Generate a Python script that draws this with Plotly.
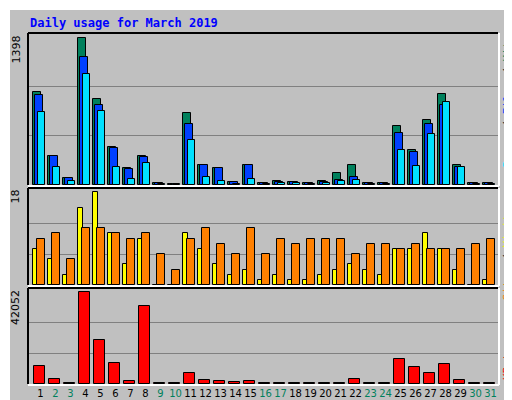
import plotly.graph_objects as go

days = list(range(1, 32))
hits = [886, 278, 70, 1398, 819, 364, 164, 278, 22, 12, 686, 193, 164, 32, 193, 22,
        41, 32, 22, 41, 117, 193, 22, 22, 563, 335, 620, 867, 193, 22, 22]
files = [857, 278, 70, 1218, 762, 354, 155, 269, 22, 8, 582, 193, 164, 32, 193, 15,
         32, 32, 15, 25, 51, 79, 15, 15, 497, 316, 582, 762, 174, 22, 22]
pages = [696, 174, 41, 1056, 705, 174, 60, 212, 9, 5, 430, 79, 41, 12, 60, 10,
         22, 15, 10, 15, 41, 51, 10, 10, 335, 183, 487, 791, 174, 12, 12]
visits = [7, 5, 2, 15, 18, 10, 4, 9, 0, 0, 10, 7, 4, 2, 3, 1,
          2, 1, 1, 2, 3, 4, 3, 2, 7, 7, 10, 7, 3, 0, 1]
sites = [9, 10, 5, 11, 11, 10, 9, 10, 6, 3, 9, 11, 8, 6, 11, 6,
         9, 8, 9, 9, 9, 6, 8, 8, 7, 8, 7, 7, 7, 8, 9]
kbytes = [8410, 2450, 460, 42052, 20340, 9790, 1530, 35930, 460, 460, 5200, 1990, 1530, 1070, 1530, 460,
          460, 460, 460, 460, 460, 2450, 460, 460, 11620, 7950, 5200, 9330, 1990, 460, 460]
weekend = {2, 3, 9, 10, 16, 17, 23, 24, 30, 31}

fig = go.Figure()
line = dict(color="black", width=1)
def bar(x, y, color, w, ax):
    fig.add_trace(go.Bar(x=x, y=y, width=w, marker=dict(color=color, line=line),
                         xaxis="x" + ax, yaxis="y" + ax, showlegend=False, hoverinfo="skip"))

bar([d - 0.15 for d in days], hits, "#00805C", 0.5, "")
bar(days, files, "#0040FF", 0.5, "")
bar([d + 0.15 for d in days], pages, "#00E0FF", 0.5, "")
bar([d - 0.233 for d in days], visits, "#FFFF00", 0.34, "2")
bar([d + 0.133 for d in days], sites, "#FF8000", 0.49, "2")
bar([d + 0.02 for d in days], kbytes, "#FF0000", 0.71, "3")

xr = [0.267, 31.6]
xd = [20 / 512, 490 / 512]
common_x = dict(range=xr, domain=xd, showgrid=False, zeroline=False, fixedrange=True)
def yax(mx, top, dom):
    return dict(range=[0, top], domain=dom, tickvals=[mx / 3, 2 * mx / 3], showticklabels=False,
                gridcolor="#808080", gridwidth=1, zeroline=False, ticks="")

fig.update_layout(
    width=512, height=400, margin=dict(l=0, r=0, t=0, b=0),
    paper_bgcolor="#C0C0C0", plot_bgcolor="#C0C0C0", barmode="overlay", bargap=0,
    xaxis=dict(**common_x, anchor="y", showticklabels=False),
    xaxis2=dict(**common_x, anchor="y2", showticklabels=False),
    xaxis3=dict(**common_x, anchor="y3", tickvals=[d + 0.1 for d in days], tickangle=0,
                ticktext=[f"<span style='color:{'#00805C' if d in weekend else 'black'}'>{d}</span>" for d in days],
                tickfont=dict(family="DejaVu Sans", size=10), ticks="", ticklabelstandoff=2),
    yaxis=yax(1398, 1442, [1 - 177 / 400, 1 - 25 / 400]),
    yaxis2=yax(18, 18.8, [1 - 277 / 400, 1 - 180 / 400]),
    yaxis3=yax(42052, 44000, [1 - 376 / 400, 1 - 280 / 400]),
)

anns = [
    dict(x=20 / 512, y=1 - 6 / 400, text="<b>Daily usage for March 2019</b>", xanchor="left", yanchor="top",
         font=dict(family="DejaVu Sans Mono", size=12, color="#0000FF"), textangle=0),
    dict(x=16 / 512, y=1 - 25 / 400, text="1398", xanchor="right", yanchor="top", textangle=-90,
         font=dict(family="DejaVu Sans", size=11, color="black")),
    dict(x=16 / 512, y=1 - 180 / 400, text="18", xanchor="right", yanchor="top", textangle=-90,
         font=dict(family="DejaVu Sans", size=11, color="black")),
    dict(x=16 / 512, y=1 - 280 / 400, text="42052", xanchor="right", yanchor="top", textangle=-90,
         font=dict(family="DejaVu Sans", size=11, color="black")),
    dict(x=499 / 512, y=1 - 25 / 400, text="<span style='color:#00E0FF'>Pages</span> / <span style='color:#0040FF'>Files</span> / <span style='color:#00805C'>Hits</span>",
         xanchor="center", yanchor="top", textangle=-90, font=dict(family="DejaVu Sans Mono", size=11, color="black")),
    dict(x=499 / 512, y=1 - 198 / 400, text="<span style='color:#FF8000'>Sites</span> / <span style='color:#FFFF00'>Visits</span>",
         xanchor="center", yanchor="top", textangle=-90, font=dict(family="DejaVu Sans Mono", size=11, color="black")),
    dict(x=499 / 512, y=1 - 330 / 400, text="KBytes", xanchor="center", yanchor="top", textangle=-90,
         font=dict(family="DejaVu Sans Mono", size=11, color="#FF0000")),
]
for a in anns:
    a.update(xref="paper", yref="paper", showarrow=False)
fig.update_layout(annotations=anns)

shapes = []
def px(x0, y0, x1, y1, color, w=1):
    shapes.append(dict(type="line", xref="paper", yref="paper", x0=x0 / 512, y0=1 - y0 / 400,
                       x1=x1 / 512, y1=1 - y1 / 400, line=dict(color=color, width=w), layer="below"))
# outer 3D border
px(1, 0, 1, 400, "white", 2)
px(0, 1, 512, 1, "white", 2)
px(511, 0, 511, 400, "#808080", 2)
px(0, 399, 512, 399, "#808080", 2)
px(507, 5, 507, 397, "#808080", 4)
px(5, 396, 509, 396, "#808080", 4)
for t, b in [(25, 177), (180, 277), (280, 376)]:
    shapes.append(dict(type="line", xref="paper", yref="paper", x0=20 / 512, y0=1 - t / 400,
                       x1=490 / 512, y1=1 - t / 400, line=dict(color="black", width=2)))
    shapes.append(dict(type="line", xref="paper", yref="paper", x0=20 / 512, y0=1 - t / 400,
                       x1=20 / 512, y1=1 - b / 400, line=dict(color="black", width=2)))
    shapes.append(dict(type="line", xref="paper", yref="paper", x0=491 / 512, y0=1 - t / 400,
                       x1=491 / 512, y1=1 - (b + 1) / 400, line=dict(color="white", width=2)))
    shapes.append(dict(type="line", xref="paper", yref="paper", x0=20 / 512, y0=1 - (b + 1) / 400,
                       x1=491 / 512, y1=1 - (b + 1) / 400, line=dict(color="white", width=2)))
fig.update_layout(shapes=shapes)

fig.write_html("out.html")
